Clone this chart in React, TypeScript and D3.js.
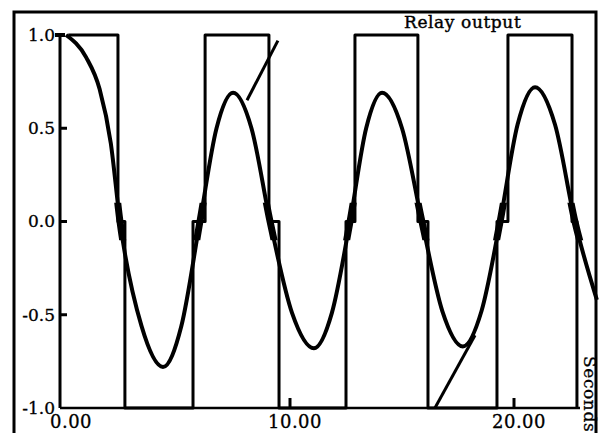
import React from 'react';
import * as d3 from 'd3';

const width = 603;
const height = 433;

// system response
const responseTime = [0, 0.9, 1.5, 2.0, 2.41, 3.37, 4.33, 5.15, 5.98, 6.72, 7.46, 8.28, 9.11, 10.09, 11.07, 11.87, 12.68, 13.4, 14.11, 15.0, 15.89, 16.8, 17.72, 18.55, 19.38, 20.16, 20.94, 21.83, 22.72, 23.7];
const responseValue = [1.0, 0.88, 0.71, 0.42, 0.0, -0.56, -0.78, -0.56, 0.0, 0.5, 0.69, 0.5, 0.0, -0.49, -0.68, -0.49, 0.0, 0.5, 0.69, 0.5, 0.0, -0.48, -0.67, -0.48, 0.0, 0.52, 0.72, 0.52, 0.0, -0.42];

// relay output switching instants and levels
const relayTime = [0.1, 2.32, 2.63, 5.67, 6.21, 9.06, 9.51, 12.5, 12.9, 15.71, 16.16, 19.24, 19.73, 22.59, 22.81];
const relayLevel = [1, 0, -1, 0, 1, 0, -1, 0, 1, 0, -1, 0, 1, 0, -1];

// straight construction lines
const guideA = [[8.08, 0.65], [9.46, 0.97]];
const guideB = [[16.47, -1.0], [18.26, -0.61]];

const yTicks = [1.0, 0.5, 0.0, -0.5, -1.0];
const yTickLabels = ['1.0', '0.5', '0.0', '-0.5', '-1.0'];
const xTicks = [0, 10, 20];
const xTickLabels = ['0.00', '10.00', '20.00'];

const font = '"DejaVu Serif", "Liberation Serif", serif';

const App = () => {
  const x = d3.scaleLinear().domain([0, 20]).range([66, 514]);
  const y = d3.scaleLinear().domain([-1, 1]).range([408, 35]);

  const axisX = 60;
  const axisEnd = 580;

  const response = responseTime.map((t, i) => [t, responseValue[i]]);
  const relay = relayTime.map((t, i) => [t, relayLevel[i]]);

  const responseLine = d3.line()
    .x(d => x(d[0]))
    .y(d => y(d[1]))
    .curve(d3.curveMonotoneX);

  const relayLine = d3.line()
    .x(d => x(d[0]))
    .y(d => y(d[1]))
    .curve(d3.curveStepAfter);

  const straight = d3.line().x(d => x(d[0])).y(d => y(d[1]));

  return (
    <svg width={width} height={height} style={{ position: 'absolute', left: 0, top: 0, background: '#fff' }}>
      <defs>
        <clipPath id="zeroBand">
          <rect x={0} y={y(0.1)} width={width} height={y(-0.1) - y(0.1)} />
        </clipPath>
      </defs>

      {/* outer frame */}
      <path d={`M14,${height + 5} L14,12 L596,12 L596,${height + 5}`} fill="none" stroke="#000" strokeWidth={3} />

      {/* axes */}
      <line x1={axisX} x2={axisX} y1={y(1)} y2={y(-1)} stroke="#000" strokeWidth={3} />
      <line x1={axisX} x2={axisEnd} y1={y(-1)} y2={y(-1)} stroke="#000" strokeWidth={2.5} />
      <line x1={axisX - 5} x2={axisX + 5} y1={y(1)} y2={y(1)} stroke="#000" strokeWidth={4} />

      {yTicks.map((tick, i) => (
        <g key={i}>
          {tick > -1 && tick < 1 && (
            <line x1={axisX} x2={axisX + 7} y1={y(tick)} y2={y(tick)} stroke="#000" strokeWidth={3} />
          )}
          <text
            x={axisX - 5}
            y={y(tick)}
            dy="0.35em"
            textAnchor="end"
            fontFamily={font}
            fontSize={17}
            fill="#000"
            stroke="#000"
            strokeWidth={0.3}
          >
            {yTickLabels[i]}
          </text>
        </g>
      ))}

      {xTicks.map((tick, i) => (
        <g key={i}>
          {tick > 0 && (
            <line x1={x(tick)} x2={x(tick)} y1={y(-1)} y2={y(-1) - 10} stroke="#000" strokeWidth={3} />
          )}
          <text
            x={x(tick) + 5}
            y={428}
            textAnchor="middle"
            fontFamily={font}
            fontSize={18}
            letterSpacing={0.5}
            fill="#000"
            stroke="#000"
            strokeWidth={0.3}
          >
            {xTickLabels[i]}
          </text>
        </g>
      ))}

      {/* relay output */}
      <path d={relayLine(relay)} fill="none" stroke="#000" strokeWidth={3} strokeLinejoin="round" />

      {/* response */}
      <path d={responseLine(response)} fill="none" stroke="#000" strokeWidth={4} />
      <path d={responseLine(response)} fill="none" stroke="#000" strokeWidth={7} clipPath="url(#zeroBand)" />

      {/* construction lines */}
      <path d={straight(guideA)} fill="none" stroke="#000" strokeWidth={3} />
      <path d={straight(guideB)} fill="none" stroke="#000" strokeWidth={3} />

      <text x={404} y={28} fontFamily={font} fontSize={17} letterSpacing={0.6} fill="#000" stroke="#000" strokeWidth={0.4}>
        Relay output
      </text>
      <text
        transform="translate(584,356) rotate(90)"
        fontFamily={font}
        fontSize={17}
        letterSpacing={0.6}
        fill="#000"
        stroke="#000"
        strokeWidth={0.3}
      >
        Seconds
      </text>
    </svg>
  );
};

export default App;
